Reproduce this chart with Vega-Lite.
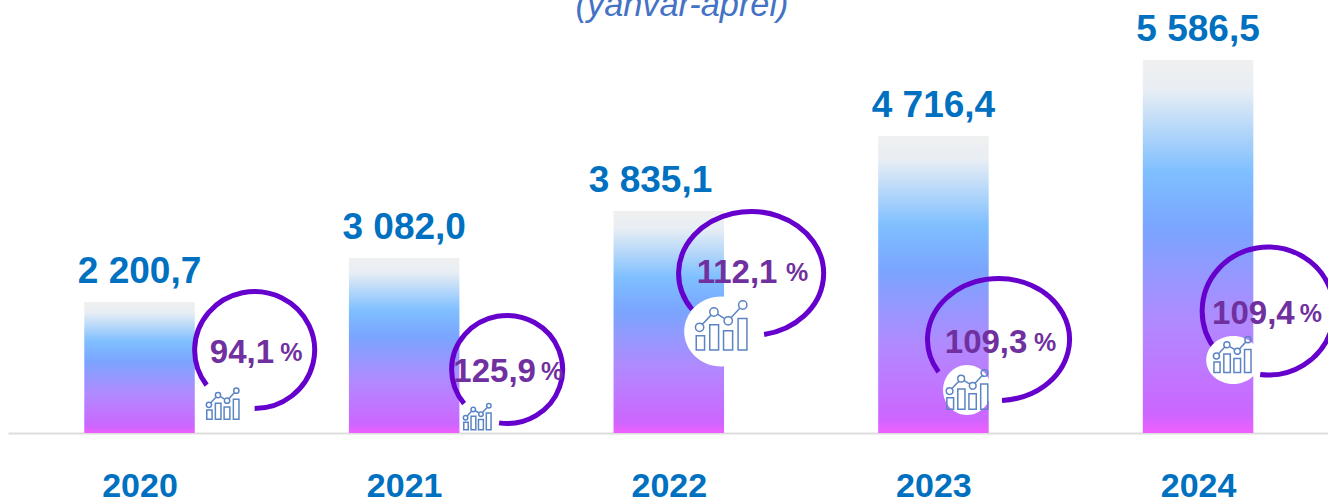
{
"$schema":"https://vega.github.io/schema/vega-lite/v6.json",
"width":1328,"height":499,"autosize":{"type":"none"},"padding":0,"background":"white",
"config":{"view":{"stroke":null},"text":{"font":"Liberation Sans"},"axis":{"labelFont":"Liberation Sans"}},
"data":{"values":[
{"year":2020,"value":2200.7,"label":"2 200,7","labelAt":2020,"pct":"94,1","sign":"%","pctAt":2020.387,"signAt":2020.574,"pctLevel":1361,"ringAt":2020.435,"ringLevel":1394,"iconAt":2020.314,"iconLevel":487},
{"year":2021,"value":3082.0,"label":"3 082,0","labelAt":2021,"pct":"125,9","sign":"%","pctAt":2021.342,"signAt":2021.559,"pctLevel":1042,"ringAt":2021.389,"ringLevel":1067,"iconAt":2021.276,"iconLevel":269},
{"year":2022,"value":3835.1,"label":"3 835,1","labelAt":2021.931,"pct":"112,1","sign":"%","pctAt":2022.258,"signAt":2022.485,"pctLevel":2802,"ringAt":2022.311,"ringLevel":2772,"iconAt":2022.198,"iconLevel":1797},
{"year":2023,"value":4716.4,"label":"4 716,4","labelAt":2023,"pct":"109,3","sign":"%","pctAt":2023.199,"signAt":2023.422,"pctLevel":1529,"ringAt":2023.246,"ringLevel":1571,"iconAt":2023.127,"iconLevel":722},
{"year":2024,"value":5586.5,"label":"5 586,5","labelAt":2024,"pct":"109,4","sign":"%","pctAt":2024.209,"signAt":2024.426,"pctLevel":2016,"ringAt":2024.265,"ringLevel":2049,"iconAt":2024.129,"iconLevel":1310}
]},
"resolve":{"scale":{"shape":"independent","size":"independent"}},
"layer":[
{"mark":{"type":"bar","orient":"vertical","width":110.5,"color":{"gradient":"linear","x1":0,"y1":0,"x2":0,"y2":1,"stops":[{"offset":0,"color":"#F0F0F0"},{"offset":0.08,"color":"#E8EEF4"},{"offset":0.3,"color":"#7FBFFF"},{"offset":0.45,"color":"#7AA5FF"},{"offset":0.7,"color":"#B08AFF"},{"offset":0.95,"color":"#CC66FF"},{"offset":1,"color":"#F060FF"}]}},
 "encoding":{
  "x":{"field":"year","type":"quantitative","title":null,"scale":{"domain":[2019.503,2024.491],"range":[8,1328],"nice":false,"zero":false,"padding":0},
    "axis":{"values":[2020,2021,2022,2023,2024],"format":"d","grid":false,"ticks":false,"offset":-66,"domainColor":"#DDDDDD","domainWidth":2,"labelFontSize":34,"labelFontWeight":"bold","labelColor":"#0070C0","labelPadding":36,"labelFlush":false,"labelOverlap":false}},
  "y":{"field":"value","type":"quantitative","title":null,"axis":null,"scale":{"domain":[0,2200.7,3082,3835.1,4716.4,5586.5,6273],"range":[433,302,258,211,136,60,0],"nice":false,"zero":false}},
  "y2":{"datum":0}
 }},
{"mark":{"type":"point","filled":false,"stroke":"#6600CC","strokeWidth":5,"opacity":1,"size":40000},
 "encoding":{
  "x":{"field":"ringAt","type":"quantitative"},
  "y":{"field":"ringLevel","type":"quantitative"},
  "shape":{"field":"year","type":"nominal","legend":null,"scale":{"domain":[2020,2021,2022,2023,2024],"range":[
   "M-0.48 0.351A0.6 0.585 0 1 1 0 0.585",
   "M-0.43 0.341A0.555 0.54 0 1 1 -0.08 0.534",
   "M-0.59 0.36A0.725 0.62 0 1 1 0.13 0.61",
   "M-0.6 0.326A0.71 0.61 0 1 1 0.035 0.609",
   "M-0.52 0.394A0.66 0.64 0 1 1 -0.08 0.635"]}}
 }},
{"transform":[{"filter":"datum.year >= 2022"}],
 "mark":{"type":"point","filled":true,"fill":"white","stroke":null,"opacity":1,"size":40000},
 "encoding":{
  "x":{"field":"iconAt","type":"quantitative"},
  "y":{"field":"iconLevel","type":"quantitative"},
  "shape":{"field":"year","type":"nominal","legend":null,"scale":{"domain":[2022,2023,2024],"range":[
   "M-0.37 0.055A0.37 0.35 0 1 0 0.37 0.055A0.37 0.35 0 1 0 -0.37 0.055Z",
   "M-0.24 0A0.24 0.25 0 1 0 0.24 0A0.24 0.25 0 1 0 -0.24 0Z",
   "M-0.26 0.05A0.27 0.24 0 1 0 0.28 0.05A0.27 0.24 0 1 0 -0.26 0.05Z"]}}
 }},
{"mark":{"type":"point","filled":false,"stroke":"#5B84C4","strokeWidth":1.5,"opacity":1,
  "shape":"M-0.96 0.37H-0.64V0.92H-0.96ZM-0.44 -0.05H-0.1V0.92H-0.44ZM0.09 0.18H0.44V0.92H0.09ZM0.65 -0.29H0.99V0.92H0.65ZM-0.72 -0.07L-0.39 -0.42M-0.144 -0.456L0.134 -0.284M0.378 -0.318L0.722 -0.692M-0.99 0.05A0.16 0.16 0 1 0 -0.67 0.05A0.16 0.16 0 1 0 -0.99 0.05ZM-0.44 -0.54A0.16 0.16 0 1 0 -0.12 -0.54A0.16 0.16 0 1 0 -0.44 -0.54ZM0.11 -0.2A0.16 0.16 0 1 0 0.43 -0.2A0.16 0.16 0 1 0 0.11 -0.2ZM0.67 -0.81A0.16 0.16 0 1 0 0.99 -0.81A0.16 0.16 0 1 0 0.67 -0.81Z"},
 "encoding":{
  "x":{"field":"iconAt","type":"quantitative"},
  "y":{"field":"iconLevel","type":"quantitative"},
  "size":{"field":"year","type":"quantitative","legend":null,"scale":{"domain":[2020,2021,2022,2023,2024],"range":[1089,784,2704,1764,1444],"zero":false,"nice":false}}
 }},
{"mark":{"type":"text","dy":-30,"fontSize":37,"fontWeight":"bold","color":"#0070C0","baseline":"middle","align":"center"},
 "encoding":{"x":{"field":"labelAt","type":"quantitative"},"y":{"field":"value","type":"quantitative"},"text":{"field":"label"}}},
{"mark":{"type":"text","dy":1,"fontSize":33,"fontWeight":"bold","color":"#7030A0","baseline":"middle","align":"center"},
 "encoding":{"x":{"field":"pctAt","type":"quantitative"},"y":{"field":"pctLevel","type":"quantitative"},"text":{"field":"pct"}}},
{"mark":{"type":"text","dy":1,"fontSize":25,"fontWeight":"bold","color":"#7030A0","baseline":"middle","align":"center"},
 "encoding":{"x":{"field":"signAt","type":"quantitative"},"y":{"field":"pctLevel","type":"quantitative"},"text":{"field":"sign"}}},
{"data":{"values":[{"at":2022.05,"level":6090,"note":"(yanvar-aprel)"}]},
 "mark":{"type":"text","fontSize":34.3,"fontStyle":"italic","color":"#4472C4","baseline":"alphabetic","align":"center"},
 "encoding":{"x":{"field":"at","type":"quantitative"},"y":{"field":"level","type":"quantitative"},"text":{"field":"note"}}}
]
}
